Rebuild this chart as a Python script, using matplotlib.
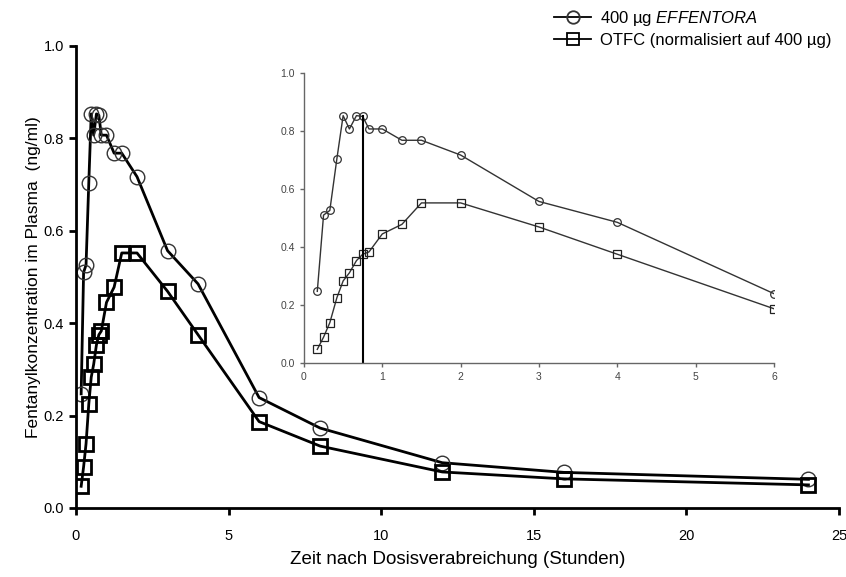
import matplotlib
matplotlib.use("Agg")
import matplotlib.pyplot as plt

plt.rcParams["font.family"] = ["Liberation Sans", "DejaVu Sans"]
plt.rcParams["mathtext.fontset"] = "custom"
plt.rcParams["mathtext.it"] = "Liberation Sans:italic"
plt.rcParams["mathtext.rm"] = "Liberation Sans"

# time after dose (hours)
t_early = [0.17, 0.25, 0.33, 0.42, 0.5, 0.58, 0.67, 0.75, 0.83, 1, 1.25, 1.5, 2, 3, 4, 6]
t_late = [8, 12, 16, 24]

effentora_early = [0.247, 0.51, 0.526, 0.704, 0.853, 0.807, 0.853, 0.85, 0.807, 0.807,
                   0.768, 0.768, 0.717, 0.557, 0.485, 0.239]
effentora_late = [0.173, 0.098, 0.077, 0.062]

otfc_early = [0.047, 0.089, 0.139, 0.225, 0.283, 0.311, 0.353, 0.375, 0.383, 0.445,
              0.478, 0.552, 0.552, 0.469, 0.375, 0.187]
otfc_late = [0.134, 0.078, 0.063, 0.05]

t_all = t_early + t_late
eff_all = effentora_early + effentora_late
otfc_all = otfc_early + otfc_late

tmax = 0.75
tmax_conc = 0.85

fig = plt.figure(figsize=(8.46, 5.77), dpi=100)
ax = fig.add_axes([0.0898, 0.1196, 0.9019, 0.8007])

ax.plot(t_all, eff_all, color="black", lw=2, marker="o", ms=10.5,
        mfc="none", mec="#333333", mew=1.0, label="400 µg $\\mathit{EFFENTORA}$")
ax.plot(t_all, otfc_all, color="black", lw=2, marker="s", ms=10,
        mfc="none", mec="black", mew=2.0, label="OTFC (normalisiert auf 400 µg)")

ax.set_xlim(0, 25)
ax.set_ylim(0, 1.0)
ax.set_xticks([0, 5, 10, 15, 20, 25])
ax.set_yticks([0.0, 0.2, 0.4, 0.6, 0.8, 1.0])
ax.set_yticklabels(["0.0", "0.2", "0.4", "0.6", "0.8", "1.0"])
for s in ["top", "right"]:
    ax.spines[s].set_visible(False)
for s in ["left", "bottom"]:
    ax.spines[s].set_linewidth(2)
ax.tick_params(direction="out", length=5, width=2, labelsize=10.5, colors="black")
ax.tick_params(axis="x", pad=10)
ax.set_xlabel("Zeit nach Dosisverabreichung (Stunden)", fontsize=13.5, labelpad=6)
ax.set_ylabel("Fentanylkonzentration im Plasma  (ng/ml)", fontsize=12.5, labelpad=2)

fig.legend(loc="upper right", bbox_to_anchor=(0.995, 1.002), frameon=False,
           fontsize=12, handlelength=2.2, handletextpad=0.55, labelspacing=0.3,
           borderaxespad=0.2)
leg = fig.legends[0]
for h in leg.legend_handles:
    h.set_linewidth(1.3)
    h.set_markersize(9)
    h.set_markeredgewidth(1.3)

# inset: first 6 hours
ins = fig.add_axes([0.3593, 0.3709, 0.5556, 0.5026])
ins.plot(t_early, effentora_early, color="#333333", lw=1, marker="o", ms=5.5,
         mfc="none", mec="#333333", mew=0.9)
ins.plot(t_early, otfc_early, color="#333333", lw=1, marker="s", ms=5.5,
         mfc="none", mec="#222222", mew=0.9)
ins.plot([tmax, tmax], [0, tmax_conc], color="black", lw=1.5)
ins.set_xlim(0, 6)
ins.set_ylim(0, 1.0)
ins.set_xticks(range(0, 7))
ins.set_yticks([0.0, 0.2, 0.4, 0.6, 0.8, 1.0])
ins.set_yticklabels(["0.0", "0.2", "0.4", "0.6", "0.8", "1.0"])
ins.patch.set_alpha(0)
for s in ["top", "right"]:
    ins.spines[s].set_visible(False)
for s in ["left", "bottom"]:
    ins.spines[s].set_color("#666666")
    ins.spines[s].set_linewidth(1)
ins.tick_params(direction="out", length=3, width=1, labelsize=7.5,
                colors="#666666", labelcolor="#444444")

fig.savefig("out.png", dpi=100)
